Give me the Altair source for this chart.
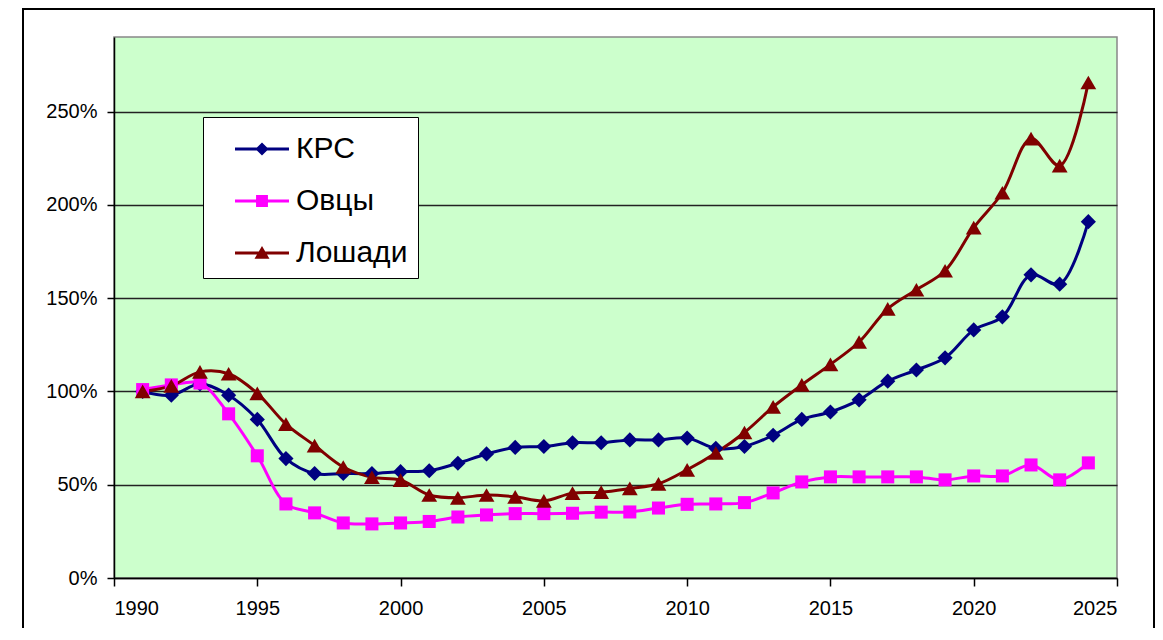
import altair as alt
import pandas as pd

years = list(range(1991, 2025))
krs = [100, 98, 104, 98, 85, 64, 56, 56, 56, 57,
       57.5, 61.5, 66.5, 70, 70.5, 72.5, 72.5, 74, 74, 75,
       69.5, 70.5, 76.5, 85, 89, 95.5, 105.5, 111.5, 118, 133,
       140, 162.5, 157.5, 191]
sheep = [101, 103.5, 104.5, 88, 65.5, 39.7, 34.9, 29.5, 29, 29.5,
         30.3, 32.7, 33.8, 34.5, 34.5, 34.7, 35.3, 35.4, 37.5, 39.5,
         39.7, 40.4, 45.6, 51.5, 54.2, 54.2, 54.2, 54.2, 52.6, 54.7,
         54.7, 60.6, 52.6, 61.7]
horses = [100, 103, 110.5, 109.5, 99, 82.5, 71, 59.5, 54, 52.5,
          44.5, 43, 44.5, 43.5, 41.3, 45.5, 46, 48, 50.5, 58,
          67, 78, 91.7, 103.5, 114.5, 126.5, 144.3, 154.5, 164.7, 187.8,
          206.5, 235.5, 221, 265.6]

names = ["КРС", "Овцы", "Лошади"]
colors = ["#000080", "#FF00FF", "#800000"]
shapes = ["diamond", "square", "triangle-up"]
sizes = [230, 170, 250]
legend_paths = [
    "M-1.227,-0.068H1.227V0.068H-1.227ZM0,-0.3L0.3,0L0,0.3L-0.3,0Z",
    "M-1.227,-0.068H1.227V0.068H-1.227ZM-0.27,-0.27H0.27V0.27H-0.27Z",
    "M-1.227,-0.068H1.227V0.068H-1.227ZM0,-0.32L0.34,0.26H-0.34Z",
]
x_ticks = [1990, 1995, 2000, 2005, 2010, 2015, 2020, 2025]
y_ticks = [0, 0.5, 1.0, 1.5, 2.0, 2.5]

rows = []
for name, vals in zip(names, [krs, sheep, horses]):
    for yr, v in zip(years, vals):
        rows.append({"year": yr, "value": v / 100.0, "series": name})
df = pd.DataFrame(rows)

FONT = "Liberation Sans"

xs = alt.X("year:Q", scale=alt.Scale(domain=[1990, 2025], nice=False, zero=False),
           axis=alt.Axis(values=x_ticks, format="d", title=None, grid=False,
                         tickSize=8, labelPadding=12))
ys = alt.Y("value:Q", scale=alt.Scale(domain=[0, 2.9], nice=False),
           axis=alt.Axis(values=y_ticks, format=".0%", title=None, grid=True,
                         tickSize=7, labelPadding=10))

base = alt.Chart(df)

series_layers = []
for name, col in zip(names, colors):
    sub = base.transform_filter(alt.datum.series == name)
    series_layers.append(
        sub.mark_line(interpolate="catmull-rom", strokeWidth=3, color=col).encode(x=xs, y=ys)
    )
for name, col, shp, sz in zip(names, colors, shapes, sizes):
    sub = base.transform_filter(alt.datum.series == name)
    series_layers.append(
        sub.mark_point(shape=shp, filled=True, size=sz, opacity=1, color=col,
                       strokeWidth=0).encode(x=xs, y=ys)
    )

leg = alt.Legend(title=None, orient="none", legendX=89, legendY=80,
                 fillColor="white", strokeColor="black", padding=10,
                 labelFont=FONT, labelFontSize=30, labelColor="black",
                 labelExpr="datum.label + '\u00a0\u00a0\u00a0\u00a0'",
                 symbolSize=1936, symbolStrokeWidth=0, symbolOffset=27,
                 labelOffset=12, rowPadding=15)

legend_layer = base.mark_point(
    filled=True, opacity=1, size=1, strokeWidth=0
).encode(
    x=xs, y=ys,
    color=alt.Color("series:N", scale=alt.Scale(domain=names, range=colors), legend=leg),
    shape=alt.Shape("series:N", scale=alt.Scale(domain=names, range=legend_paths), legend=leg),
)

frame = alt.Chart(alt.Data(values=[{"a": 1}])).mark_rect(
    fill="white", fillOpacity=0, stroke="black", strokeWidth=2
).encode(
    x=alt.value(-91), x2=alt.value(1040), y=alt.value(-28), y2=alt.value(640)
)

chart = alt.layer(frame, *series_layers, legend_layer).properties(
    width=1003, height=541,
    autosize=alt.AutoSizeParams(type="none"),
    padding={"left": 106, "top": 29, "right": 38, "bottom": 50},
    background="white",
).configure_view(
    fill="#CCFFCC", stroke="#888888", strokeWidth=1.5
).configure_axis(
    labelFont=FONT, labelFontSize=20, labelColor="black",
    domainColor="black", domainWidth=1.5, tickColor="black", tickWidth=1.5,
    gridColor="#222222", gridWidth=1.5,
)

chart.save("out.html", embed_options={"renderer": "svg", "actions": False})
